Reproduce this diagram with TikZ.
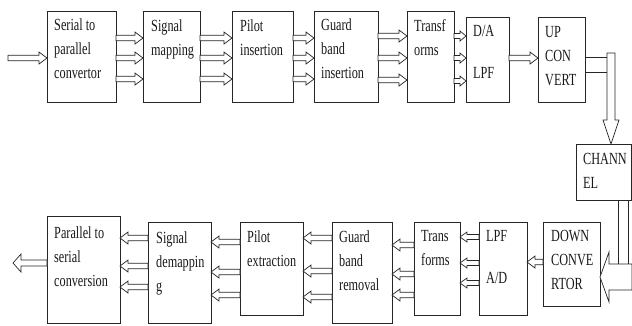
\documentclass[tikz,border=0pt]{standalone}
\usepackage{fontspec}
\setmainfont{Liberation Serif}[FakeStretch=0.72]
\usetikzlibrary{calc}
\newcommand\fatw{2.8}
\newcommand\fath{6}
\newcommand\fatl{8}
\tikzset{
    box/.style={draw=black!85, line width=0.9pt, rectangle, anchor=north west, inner sep=0pt, outer sep=0pt},
    txt/.style={anchor=north west, align=left, inner sep=0pt, text=black!90, font=\fontsize{17}{24}\selectfont,
        execute at begin node=\rule{0pt}{16pt}},
    fat/.style={draw=black!85, fill=white, line width=0.7pt,
        to path={let \p1=(\tikztostart), \p2=(\tikztotarget),
            \n1={atan2(\y2-\y1,\x2-\x1)}, \n2={veclen(\x2-\x1,\y2-\y1)-\fatl} in
            ($(\p1)+(\n1+90:\fatw)$) -- ($(\p1)+(\n1:\n2)+(\n1+90:\fatw)$)
            -- ($(\p1)+(\n1:\n2)+(\n1+90:\fath)$) -- (\p2)
            -- ($(\p1)+(\n1:\n2)+(\n1-90:\fath)$) -- ($(\p1)+(\n1:\n2)+(\n1-90:\fatw)$)
            -- ($(\p1)+(\n1-90:\fatw)$) -- cycle}},
    band/.style={draw=black!85, fill=white, line width=0.7pt},
    tipsize/.style args={#1/#2/#3}{/utils/exec={\def\fatw{#1}\def\fath{#2}\def\fatl{#3}}}
}

\begin{document}
\begin{tikzpicture}[x=1pt, y=1pt]
    \fill[white] (0,0) rectangle (632,-325);
    \useasboundingbox (0,0) rectangle (632,-325);

    % transmitter
    \node (s2p) [box, minimum width=69, minimum height=91] at (47,-11) {};
    \node (map) [box, minimum width=57, minimum height=91] at (143,-11) {};
    \node (pins) [box, minimum width=61, minimum height=91] at (232,-11) {};
    \node (gbi) [box, minimum width=64, minimum height=91] at (314,-11) {};
    \node (trf) [box, minimum width=47, minimum height=91] at (407,-11) {};
    \node (dalpf) [box, minimum width=43, minimum height=85] at (466,-17) {};
    \node (upc) [box, minimum width=47, minimum height=85] at (538,-17) {};
    \node (chan) [box, minimum width=55.5, minimum height=56] at (576,-144) {};

    \node (s2pt) [txt] at ([shift={(7,-8)}]s2p.north west) {Serial to\\parallel\\convertor};
    \node (mapt) [txt] at ([shift={(8,-8)}]map.north west) {Signal\\mapping};
    \node (pinst) [txt] at ([shift={(8,-8)}]pins.north west) {Pilot\\insertion};
    \node (gbit) [txt] at ([shift={(7,-8)}]gbi.north west) {Guard\\band\\insertion};
    \node (trft) [txt] at ([shift={(7,-8)}]trf.north west) {Transf\\orms};
    \node (dalpft) [txt] at ([shift={(7,-8)}]dalpf.north west) {D/A\\[18pt]LPF};
    \node (upct) [txt] at ([shift={(7,-9)}]upc.north west) {UP\\CON\\VERT};
    \node (chant) [txt] at ([shift={(7,-9)}]chan.north west) {CHANN\\EL};

    % receiver
    \node (p2s) [box, minimum width=73, minimum height=107] at (47,-216) {};
    \node (demap) [box, minimum width=63, minimum height=101] at (148,-222) {};
    \node (pext) [box, minimum width=63, minimum height=93] at (240,-222) {};
    \node (gbr) [box, minimum width=60, minimum height=101] at (332,-222) {};
    \node (trf2) [box, minimum width=46, minimum height=93] at (414,-222) {};
    \node (lpfad) [box, minimum width=48, minimum height=93] at (479,-222) {};
    \node (dconv) [box, minimum width=57, minimum height=84] at (543,-222) {};

    \node (p2st) [txt] at ([shift={(7,-10)}]p2s.north west) {Parallel to\\serial\\conversion};
    \node (demapt) [txt] at ([shift={(8,-9)}]demap.north west) {Signal\\demappin\\g};
    \node (pextt) [txt] at ([shift={(7,-8)}]pext.north west) {Pilot\\extraction};
    \node (gbrt) [txt] at ([shift={(7,-8)}]gbr.north west) {Guard\\band\\removal};
    \node (trf2t) [txt] at ([shift={(7,-8)}]trf2.north west) {Trans\\forms};
    \node (lpfadt) [txt] at ([shift={(7,-8)}]lpfad.north west) {LPF\\[18pt]A/D};
    \node (dconvt) [txt] at ([shift={(8,-8)}]dconv.north west) {DOWN\\CONVE\\RTOR};

    % top row arrows
    \coordinate (in) at (8,-58);
    \draw [fat] (in) to (s2p.west |- in);
    \draw [fat] (s2p.east |- 0,-38) to (map.west |- 0,-38);
    \draw [fat] (s2p.east |- 0,-58) to (map.west |- 0,-58);
    \draw [fat] (s2p.east |- 0,-79) to (map.west |- 0,-79);
    \draw [fat] (map.east |- 0,-38) to (pins.west |- 0,-38);
    \draw [fat] (map.east |- 0,-58) to (pins.west |- 0,-58);
    \draw [fat] (map.east |- 0,-79) to (pins.west |- 0,-79);
    \draw [fat] (pins.east |- 0,-38) to (gbi.west |- 0,-38);
    \draw [fat] (pins.east |- 0,-58) to (gbi.west |- 0,-58);
    \draw [fat] (pins.east |- 0,-79) to (gbi.west |- 0,-79);
    \draw [fat] (gbi.east |- 0,-36) to (trf.west |- 0,-36);
    \draw [fat] (gbi.east |- 0,-58) to (trf.west |- 0,-58);
    \draw [fat] (gbi.east |- 0,-80) to (trf.west |- 0,-80);
    \draw [fat, tipsize=2.5/5/6] (trf.east |- 0,-36) to (dalpf.west |- 0,-36);
    \draw [fat, tipsize=2.5/5/6] (trf.east |- 0,-58) to (dalpf.west |- 0,-58);
    \draw [fat, tipsize=2.5/5/6] (trf.east |- 0,-81) to (dalpf.west |- 0,-81);
    \draw [fat] (dalpf.east |- 0,-58) to (upc.west |- 0,-58);

    % up converter to channel
    \coordinate (drop) at (611,-53);
    \draw [band] (upc.east |- 0,-57) rectangle (607,-72);
    \draw [fat, tipsize=4/8/24] (drop) to (drop |- chan.north);

    % channel to down converter
    \coordinate (feed) at (632,-277);
    \draw [band] (chan.south -| 618,0) rectangle (628,-270);
    \draw [fat, tipsize=13/25/9] (feed) to (dconv.east |- feed);

    % bottom row arrows
    \draw [fat] (dconv.west |- 0,-262) to (lpfad.east |- 0,-262);
    \draw [fat, tipsize=2.5/5/7] (lpfad.west |- 0,-237) to (trf2.east |- 0,-237);
    \draw [fat, tipsize=2.5/5/7] (lpfad.west |- 0,-263) to (trf2.east |- 0,-263);
    \draw [fat, tipsize=2.5/5/7] (lpfad.west |- 0,-283) to (trf2.east |- 0,-283);
    \draw [fat] (trf2.west |- 0,-245) to (gbr.east |- 0,-245);
    \draw [fat] (trf2.west |- 0,-274) to (gbr.east |- 0,-274);
    \draw [fat] (trf2.west |- 0,-295) to (gbr.east |- 0,-295);
    \draw [fat] (gbr.west |- 0,-238) to (pext.east |- 0,-238);
    \draw [fat] (gbr.west |- 0,-271) to (pext.east |- 0,-271);
    \draw [fat] (gbr.west |- 0,-297) to (pext.east |- 0,-297);
    \draw [fat] (pext.west |- 0,-242) to (demap.east |- 0,-242);
    \draw [fat] (pext.west |- 0,-272) to (demap.east |- 0,-272);
    \draw [fat] (pext.west |- 0,-295) to (demap.east |- 0,-295);
    \draw [fat] (demap.west |- 0,-238) to (p2s.east |- 0,-238);
    \draw [fat] (demap.west |- 0,-266) to (p2s.east |- 0,-266);
    \draw [fat] (demap.west |- 0,-287) to (p2s.east |- 0,-287);
    \coordinate (out) at (13,-263);
    \draw [fat, tipsize=3/9/8] (p2s.west |- out) to (out);
\end{tikzpicture}
\end{document}
